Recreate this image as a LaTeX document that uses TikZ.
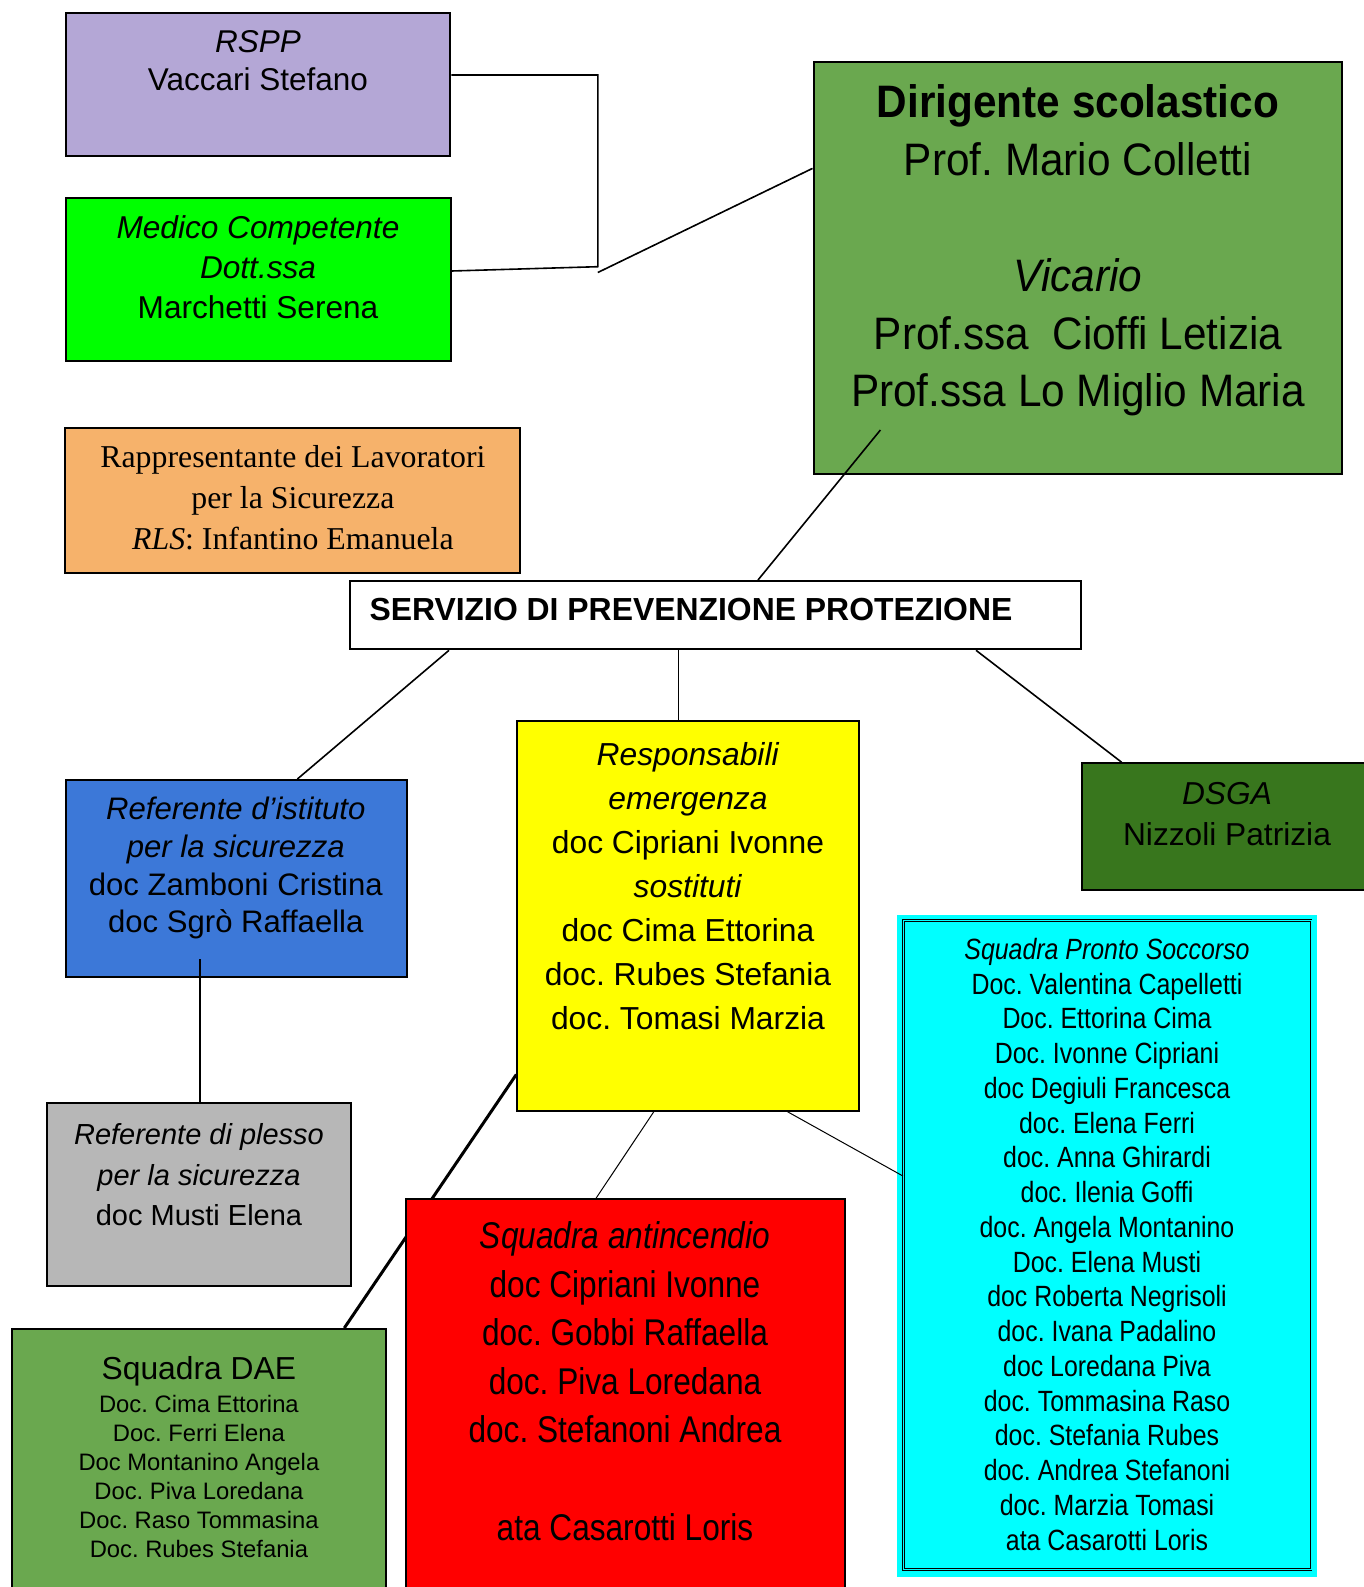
\documentclass[tikz,border=0pt]{standalone}
\usepackage{fontspec}
\setmainfont{Liberation Sans}
\newfontfamily\rlsserif{Liberation Serif}
\newfontfamily\narrowsans[FakeStretch=0.85]{Liberation Sans}
\newfontfamily\dirsans[FakeStretch=0.93]{Liberation Sans}
\newcommand\setfs[2]{\fontsize{#1pt}{#2pt}\selectfont\frenchspacing}
\definecolor{crspp}{HTML}{B4A7D6}
\definecolor{cmed}{HTML}{00FF00}
\definecolor{cdir}{HTML}{6AA84F}
\definecolor{crls}{HTML}{F6B26B}
\definecolor{cblue}{HTML}{3C78D8}
\definecolor{cyel}{HTML}{FFFF00}
\definecolor{cdsga}{HTML}{38761D}
\definecolor{ccyan}{HTML}{00FFFF}
\definecolor{cgray}{HTML}{B7B7B7}
\definecolor{cred}{HTML}{FF0000}
\begin{document}
\frenchspacing
\begin{tikzpicture}[x=1pt,y=-1pt,
  box/.style={draw=black, line width=2pt, inner sep=0pt, rectangle},
  txt/.style={inner sep=0pt, align=center, anchor=north},
  conn/.style={draw=black, line width=1.6pt},
  thin/.style={draw=black, line width=1pt},
  thick/.style={draw=black, line width=3pt}]
\useasboundingbox (0,0) rectangle (1364,1587);
\fill[white] (0,0) rectangle (1364,1587);

% ---- boxes ----
\node[box, fill=crspp, minimum width=384.8pt, minimum height=142.2pt] (rspp) at (257.9,84.4) {};
\node[txt, font=\setfs{31.5}{37.3}] (rspp-t) at (258,26.6)
  {\strut\textit{RSPP}\\\strut Vaccari Stefano};

\node[box, fill=cmed, minimum width=385pt, minimum height=163.3pt] (medico) at (258,279.35) {};
\node[txt, font=\setfs{31.6}{40}] (medico-t) at (258,210.3)
  {\strut\textit{Medico Competente}\\\strut\textit{Dott.ssa}\\\strut Marchetti Serena};

\node[box, fill=cdir, minimum width=528.7pt, minimum height=411.7pt] (dir) at (1077.85,268.15) {};
\node[txt, font=\dirsans\setfs{45.5}{57.8}] (dir-t) at (1078,77.2)
  {\strut\textbf{Dirigente scolastico}\\\strut Prof. Mario Colletti\\\strut\\\strut\textit{Vicario}\\\strut Prof.ssa\ \ Cioffi Letizia\\\strut Prof.ssa Lo Miglio Maria};

\node[box, fill=crls, minimum width=455pt, minimum height=144.6pt] (rls) at (292.9,500.2) {};
\node[txt, font=\rlsserif\setfs{31.8}{40.7}] (rls-t) at (292.9,439.2)
  {\strut Rappresentante dei Lavoratori\\\strut per la Sicurezza\\\strut\textit{RLS}: Infantino Emanuela};

\node[box, fill=white, minimum width=731pt, minimum height=68.3pt] (spp) at (715,615.15) {};
\node[inner sep=0pt, anchor=base west, font=\bfseries\setfs{31.9}{38}] (spp-t) at (369.3,620)
  {SERVIZIO DI PREVENZIONE PROTEZIONE};

\node[box, fill=cblue, minimum width=341pt, minimum height=196.7pt] (blue) at (236.2,878.35) {};
\node[txt, font=\setfs{31.1}{37.9}] (blue-t) at (235.8,792.5)
  {\strut\textit{Referente d’istituto}\\\strut\textit{per la sicurezza}\\\strut doc Zamboni Cristina\\\strut doc Sgrò Raffaella};

\node[box, fill=cyel, minimum width=341.7pt, minimum height=390pt] (yellow) at (688.15,915.7) {};
\node[txt, font=\setfs{31.8}{44}] (yellow-t) at (688,734.2)
  {\strut\textit{Responsabili}\\\strut\textit{emergenza}\\\strut doc Cipriani Ivonne\\\strut\textit{sostituti}\\\strut doc Cima Ettorina\\\strut doc. Rubes Stefania\\\strut doc. Tomasi Marzia};

\node[box, fill=cdsga, minimum width=290.4pt, minimum height=126.4pt] (dsga) at (1226.8,826.5) {};
\node[txt, font=\setfs{31.7}{41}] (dsga-t) at (1227,775.3)
  {\strut\textit{DSGA}\\\strut Nizzoli Patrizia};

\node[fill=ccyan, draw=none, inner sep=0pt, minimum width=420.6pt, minimum height=661.7pt] (cyanout) at (1107,1246.15) {};
\node[draw=black, line width=0.8pt, double=ccyan, double distance=0.8pt, inner sep=0pt,
  minimum width=407.7pt, minimum height=649pt] (cyanin) at (1107.15,1245.1) {};
\node[txt, font=\narrowsans\setfs{29.3}{34.75}] (cyan-t) at (1107,934.9)
  {\strut\textit{Squadra Pronto Soccorso}\\
   \strut Doc. Valentina Capelletti\\
   \strut Doc. Ettorina Cima\\
   \strut Doc. Ivonne Cipriani\\
   \strut doc Degiuli Francesca\\
   \strut doc. Elena Ferri\\
   \strut doc. Anna Ghirardi\\
   \strut doc. Ilenia Goffi\\
   \strut doc. Angela Montanino\\
   \strut Doc. Elena Musti\\
   \strut doc Roberta Negrisoli\\
   \strut doc. Ivana Padalino\\
   \strut doc Loredana Piva\\
   \strut doc. Tommasina Raso\\
   \strut doc. Stefania Rubes\\
   \strut doc. Andrea Stefanoni\\
   \strut doc. Marzia Tomasi\\
   \strut ata Casarotti Loris};

\node[box, fill=cgray, minimum width=303.7pt, minimum height=182.4pt] (gray) at (198.85,1194.5) {};
\node[txt, font=\setfs{29}{40.7}] (gray-t) at (199,1115.8)
  {\strut\textit{Referente di plesso}\\\strut\textit{per la sicurezza}\\\strut doc Musti Elena};

\node[box, fill=cdir, minimum width=374.3pt, minimum height=271pt] (dae) at (198.85,1464.5) {};
\node[inner sep=0pt, anchor=base, font=\setfs{31.8}{38}] (dae-h) at (198.9,1379.3) {Squadra DAE};
\node[txt, font=\setfs{23.8}{29}] (dae-t) at (198.9,1392)
  {\strut Doc. Cima Ettorina\\\strut Doc. Ferri Elena\\\strut Doc Montanino Angela\\\strut Doc. Piva Loredana\\\strut Doc. Raso Tommasina\\\strut Doc. Rubes Stefania};

% ---- connector behind the red box ----
\coordinate (t1) at (0,1074.5);
\coordinate (t2) at (344.3,0);
\draw[thick] (yellow.west |- t1) -- (dae.north -| t2);

\node[box, fill=cred, minimum width=439.3pt, minimum height=400.7pt] (red) at (625.35,1399.65) {};
\node[txt, font=\narrowsans\setfs{37.2}{48.6}] (red-t) at (625,1214.3)
  {\strut\textit{Squadra antincendio}\\\strut doc Cipriani Ivonne\\\strut doc. Gobbi Raffaella\\\strut doc. Piva Loredana\\\strut doc. Stefanoni Andrea\\\strut\\\strut ata Casarotti Loris};

% ---- connectors ----
\coordinate (j1) at (597.8,75);
\coordinate (j2) at (597.8,266.7);
\coordinate (j3) at (597.8,272.5);
\coordinate (m1) at (0,271);
\coordinate (d0) at (0,168.4);
\draw[conn] (rspp.east |- j1) -- (j1) -- (j2) -- (medico.east |- m1);
\draw[conn] (j3) -- (dir.west |- d0);

\coordinate (d1) at (880.4,430);
\coordinate (s1) at (758,0);
\draw[conn] (d1) -- (spp.north -| s1);

\coordinate (s2) at (449,0);
\coordinate (b1) at (297.4,0);
\draw[conn] (spp.south -| s2) -- (blue.north -| b1);

\coordinate (y0) at (678,0);
\draw[thin] (spp.south -| y0) -- (yellow.north -| y0);

\coordinate (s3) at (976,0);
\coordinate (g1) at (1121.7,0);
\draw[conn] (spp.south -| s3) -- (dsga.north -| g1);

\coordinate (r1) at (200,959.3);
\draw[conn] (r1) -- (gray.north -| r1);

\coordinate (u1) at (653.8,0);
\coordinate (u2) at (596,0);
\draw[thin] (yellow.south -| u1) -- (red.north -| u2);

\coordinate (u3) at (787.5,0);
\coordinate (v1) at (0,1176);
\draw[thin] (yellow.south -| u3) -- (cyanin.west |- v1);
\end{tikzpicture}
\end{document}
